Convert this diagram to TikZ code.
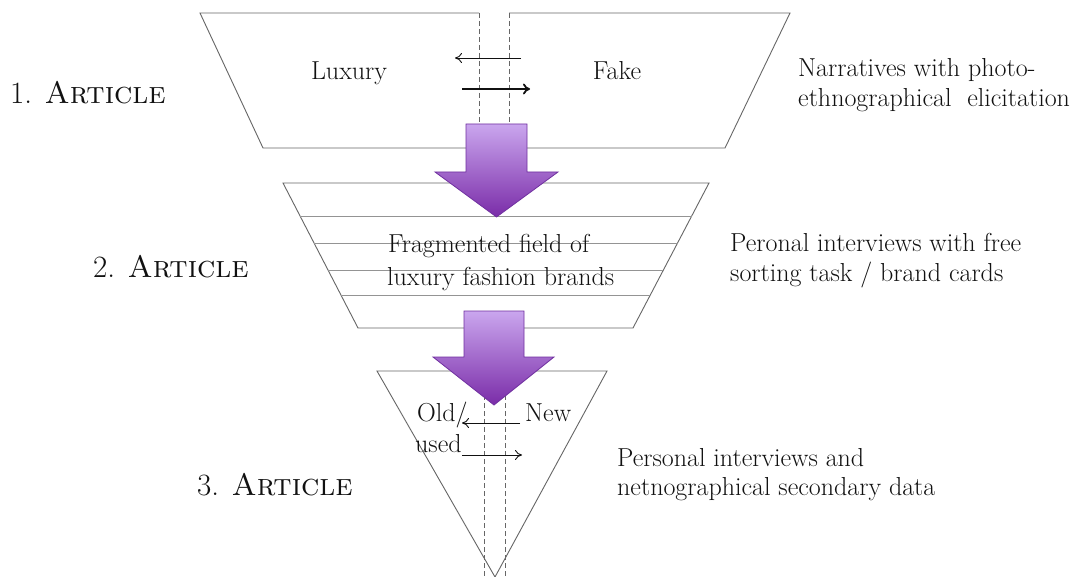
\documentclass[tikz,border=0pt]{standalone}
\usepackage{fontspec}
\usetikzlibrary{arrows.meta,calc}

\definecolor{outline}{HTML}{666666}
\definecolor{ink}{HTML}{111111}
\definecolor{purpletop}{HTML}{CAA6EE}
\definecolor{purplebot}{HTML}{7A2CA8}
\definecolor{purpleedge}{HTML}{7030A0}

\tikzset{
  shapeline/.style={draw=outline, line width=0.9pt, line join=miter},
  divider/.style={draw=outline, line width=0.9pt, dash pattern=on 5pt off 3pt},
  stripe/.style={draw=outline!70, line width=0.8pt},
  flowarrow/.style={draw=purpleedge, line width=0.8pt, top color=purpletop, bottom color=purplebot},
  body/.style={inner sep=0pt, text=ink, font=\fontsize{26}{30}\selectfont},
  levelnum/.style={inner sep=0pt, text=ink, font=\fontsize{31}{34}\selectfont},
  swap/.style={draw=ink, line width=0.9pt, -{To[length=7pt,width=10pt]}},
  swapbold/.style={draw=ink, line width=1.8pt, -{To[length=7pt,width=11pt]}},
}
\newcommand{\levelname}[1]{#1. \textsc{Article}}

\begin{document}
\begin{tikzpicture}[x=1pt,y=-1pt]
\useasboundingbox[fill=white] (0,0) rectangle (1073,577);

% ---- level 1: two halves of the top trapezoid ----
\coordinate (l1tl) at (200,13);   \coordinate (l1tm) at (479,13);
\coordinate (l1bl) at (263,148);  \coordinate (l1bm) at (479,148);
\coordinate (r1tm) at (509,13);   \coordinate (r1tr) at (790,13);
\coordinate (r1bm) at (509,148);  \coordinate (r1br) at (725,148);
\fill[white] (l1tl) -- (l1tm) -- (l1bm) -- (l1bl) -- cycle;
\fill[white] (r1tm) -- (r1tr) -- (r1br) -- (r1bm) -- cycle;
\draw[shapeline] (l1bm) -- (l1bl) -- (l1tl) -- (l1tm);
\draw[shapeline] (r1tm) -- (r1tr) -- (r1br) -- (r1bm);
\draw[divider] (l1tm) -- (l1bm);
\draw[divider] (r1tm) -- (r1bm);

\node[body, anchor=base] (luxury) at (349,80) {Luxury};
\node[body, anchor=base] (fake) at (617,80) {Fake};

\coordinate (s1a) at (521,58); \coordinate (s1b) at (455,58);
\coordinate (s2a) at (462,89); \coordinate (s2b) at (530,89);
\draw[swap] (s1a) -- (s1b);
\draw[swapbold] (s2a) -- (s2b);

% ---- level 2: striped trapezoid ----
\coordinate (m2tl) at (283,183); \coordinate (m2tr) at (709,183);
\coordinate (m2bl) at (358,328); \coordinate (m2br) at (633,328);
\draw[shapeline, fill=white] (m2tl) -- (m2tr) -- (m2br) -- (m2bl) -- cycle;
\foreach \t in {0.2276,0.4138,0.6,0.7724}
  \draw[stripe] ($(m2tl)!\t!(m2bl)$) -- ($(m2tr)!\t!(m2br)$);

\node[body, anchor=base west] (field1) at (388,253) {Fragmented field of};
\node[body, anchor=base west] (field2) at (387,285) {luxury fashion brands};

% ---- level 3: triangle ----
\coordinate (t3l) at (377,371); \coordinate (t3r) at (607,371);
\coordinate (t3b) at (495,577);
\draw[shapeline, fill=white] (t3l) -- (t3r) -- (t3b) -- cycle;
\coordinate (d3a) at (484,371); \coordinate (d3b) at (484,577);
\coordinate (d3c) at (505,371); \coordinate (d3d) at (505,577);
\draw[divider] (d3a) -- (d3b);
\draw[divider] (d3c) -- (d3d);

\node[body, anchor=base west] (old) at (417,421) {Old/};
\node[body, anchor=base west] (used) at (415,452) {used};
\node[body, anchor=base west] (new) at (525,421) {New};
\coordinate (s3a) at (520,423); \coordinate (s3b) at (462,423);
\coordinate (s4a) at (462,455); \coordinate (s4b) at (522,455);
\draw[swap] (s3a) -- (s3b);
\draw[swap] (s4a) -- (s4b);

% ---- block arrows between levels ----
\draw[flowarrow] (466,124) -- (527,124) -- (527,172) -- (558,172)
  -- (496.5,217) -- (435,172) -- (466,172) -- cycle;
\draw[flowarrow] (464,311) -- (524,311) -- (524,357) -- (554,357)
  -- (494,405) -- (433,357) -- (464,357) -- cycle;

% ---- level labels ----
\node[levelnum, anchor=base west] (lab1) at (10,104) {\levelname{1}};
\node[levelnum, anchor=base west] (lab2) at (93,278) {\levelname{2}};
\node[levelnum, anchor=base west] (lab3) at (197,495) {\levelname{3}};

% ---- methods ----
\node[body, anchor=base west] (meth1a) at (798,77) {Narratives with photo-};
\node[body, anchor=base west] (meth1b) at (798,107) {ethnographical\ \ elicitation};
\node[body, anchor=base west] (meth2a) at (730,252) {Peronal interviews with free};
\node[body, anchor=base west] (meth2b) at (730,281) {sorting task / brand cards};
\node[body, anchor=base west] (meth3a) at (617,466) {Personal interviews and};
\node[body, anchor=base west] (meth3b) at (617,495) {netnographical secondary data};
\end{tikzpicture}
\end{document}
